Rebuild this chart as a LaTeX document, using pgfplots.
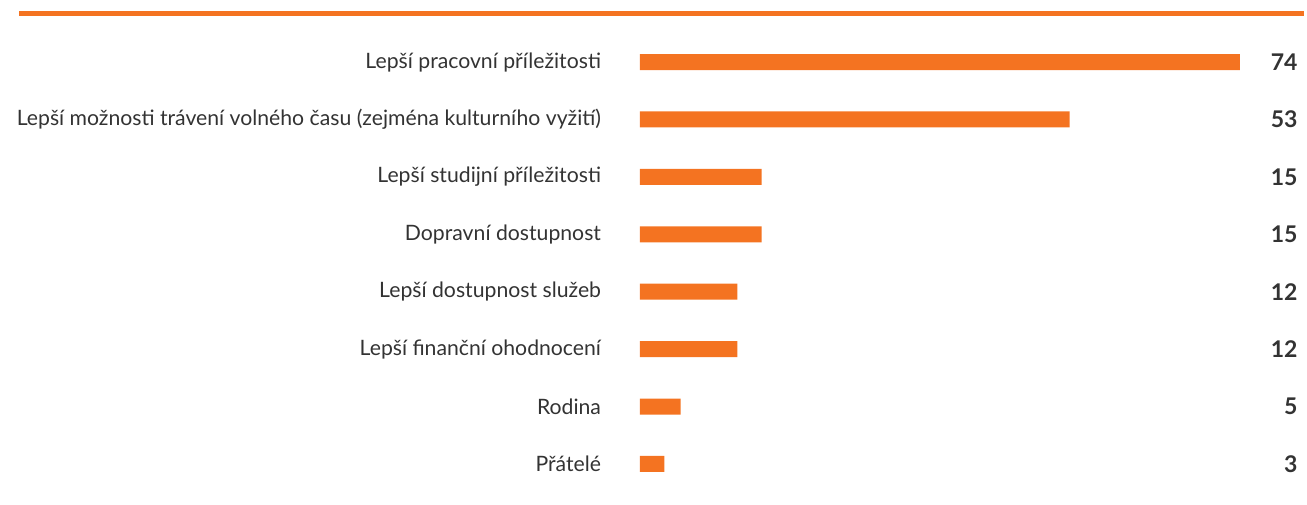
\documentclass[border=0pt]{standalone}
\usepackage{pgfplots}
\pgfplotsset{compat=1.18}
\usepackage{fontspec}
\setmainfont{Lato}
\definecolor{cBar}{HTML}{F47321}
\definecolor{cTxt}{HTML}{333333}
\begin{document}
\begin{tikzpicture}[x=1pt,y=1pt]
% page frame: 1px = 0.5pt
\path (0,0) rectangle (653.5,252);
\draw[cBar, line width=2.5pt] (9.5,245.1) -- (652,245.1);
\begin{axis}[
  at={(320pt,5.65pt)}, anchor=south west,
  scale only axis, width=300pt, height=229.7pt,
  xmin=0, xmax=74, ymin=-0.5, ymax=7.5, y dir=reverse,
  xbar, bar width=8pt, bar shift=0pt,
  axis line style={draw=none}, major tick length=0pt,
  xtick=\empty, ytick={0,...,7},
  yticklabels={Lepší pracovní příležitosti,
    Lepší možnosti trávení volného času (zejména kulturního vyžití),
    Lepší studijní příležitosti, Dopravní dostupnost,
    Lepší dostupnost služeb, Lepší finanční ohodnocení, Rodina, Přátelé},
  yticklabel style={font=\fontsize{10.6}{12}\selectfont, text=cTxt, inner sep=0pt, xshift=-19.3pt},
  clip=false,
]
\addplot[fill=cBar, draw=none] coordinates {(74,0) (53,1) (15,2) (15,3) (12,4) (12,5) (5,6) (3,7)};
\addplot[draw=none, mark=none, xbar=0pt, bar width=0pt, forget plot,
  nodes near coords, point meta=explicit symbolic,
  every node near coord/.style={anchor=east, inner sep=0pt, font=\bfseries\fontsize{11.5}{13}\selectfont, text=cTxt}]
  coordinates {(81.15,0) [74] (81.15,1) [53] (81.15,2) [15] (81.15,3) [15] (81.15,4) [12] (81.15,5) [12] (81.15,6) [5] (81.15,7) [3]};
\end{axis}
\end{tikzpicture}
\end{document}
